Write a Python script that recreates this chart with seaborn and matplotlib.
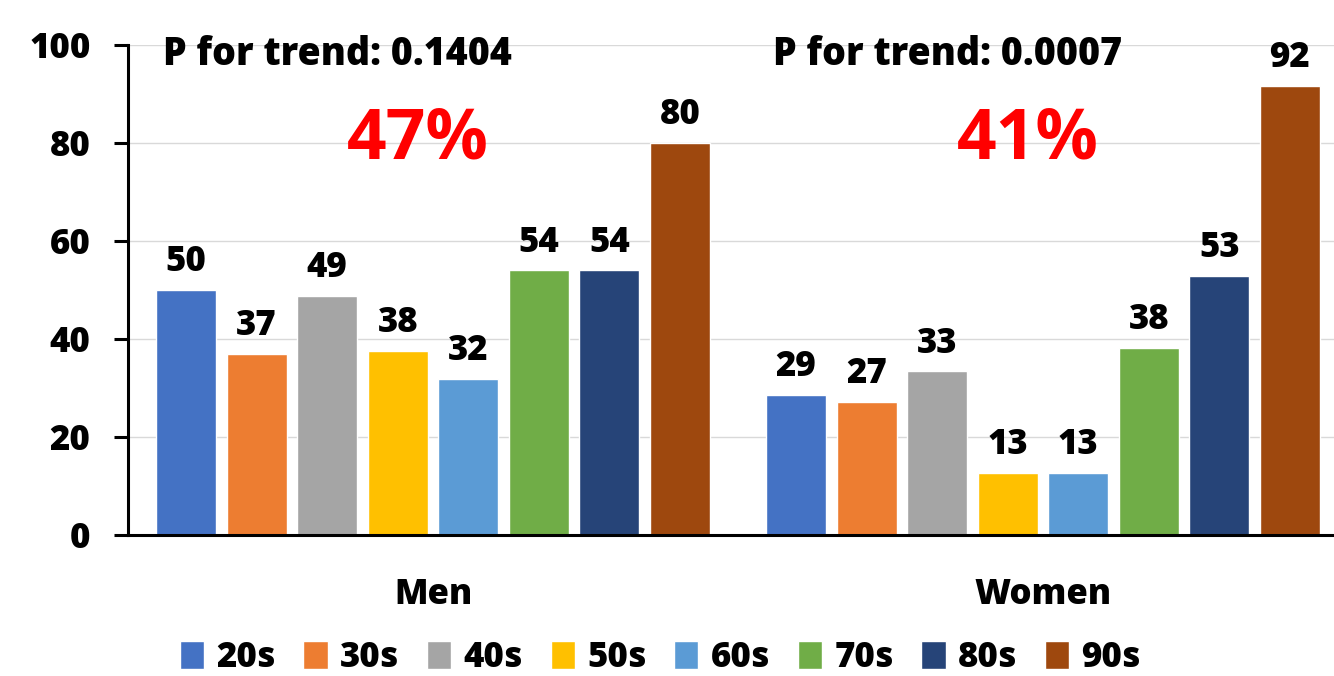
import matplotlib
matplotlib.use("Agg")
import matplotlib.pyplot as plt
from matplotlib.patches import Patch
import seaborn as sns
import pandas as pd

# data
groups = ["Men", "Women"]
decades = ["20s", "30s", "40s", "50s", "60s", "70s", "80s", "90s"]
men_vals = [50, 36.9, 48.8, 37.6, 31.8, 54, 54, 80]
women_vals = [28.6, 27.1, 33.4, 12.7, 12.7, 38.2, 52.9, 91.6]
trend_p = ["P for trend: 0.1404", "P for trend: 0.0007"]
pct_labels = ["47%", "41%"]
colors = ["#4472C4", "#ED7D31", "#A5A5A5", "#FFC000",
          "#5B9BD5", "#70AD47", "#264478", "#9E480E"]

df = pd.DataFrame({
    "group": [g for g in groups for _ in decades],
    "decade": decades * 2,
    "value": men_vals + women_vals,
})

sns.set_theme(style="white")
plt.rcParams["font.family"] = ["Open Sans", "DejaVu Sans"]
plt.rcParams["font.weight"] = "heavy"
plt.rcParams["text.color"] = "black"
plt.rcParams["xtick.color"] = "black"
plt.rcParams["ytick.color"] = "black"
W = "heavy"
FS = 25

fig = plt.figure(figsize=(13.34, 6.76), dpi=100)
ax = fig.add_axes([128 / 1334, 141 / 676, 1220 / 1334, 490 / 676])

sns.barplot(data=df, x="group", y="value", hue="decade", palette=colors,
            width=0.925, gap=0.15, saturation=1, legend=False, ax=ax)

for cont in ax.containers:
    ax.bar_label(cont, fmt="%.0f", padding=7, fontsize=FS, fontweight=W,
                 color="black")

ax.set_xlim(-0.5, 1.5)
ax.set_ylim(0, 100)
ax.set_yticks([0, 20, 40, 60, 80, 100])
ax.yaxis.grid(True, color="#d9d9d9", linewidth=1)
ax.set_axisbelow(True)
for side in ["top", "right"]:
    ax.spines[side].set_visible(False)
for side in ["left", "bottom"]:
    ax.spines[side].set_color("black")
    ax.spines[side].set_linewidth(2.2)
ax.tick_params(axis="y", which="major", left=True, length=10, width=2.2,
               color="black", labelsize=FS, pad=17, labelcolor="black")
ax.tick_params(axis="x", bottom=False, labelsize=FS, pad=24,
               labelcolor="black")
for lab in ax.get_xticklabels() + ax.get_yticklabels():
    lab.set_fontweight(W)
ax.set_xlabel("")
ax.set_ylabel("%", fontsize=FS, fontweight=W, color="black")
ax.yaxis.set_label_coords(-0.112, 0.5)

# annotations
for i, (p, pct) in enumerate(zip(trend_p, pct_labels)):
    ax.text(i - 0.443, 98, p, fontsize=27, fontweight=W,
            ha="left", va="center", color="black")
    ax.text(i - 0.025, 80.5, pct, fontsize=50, fontweight="bold",
            color="red", ha="center", va="center")

handles = [Patch(facecolor=c, label=d) for c, d in zip(colors, decades)]
fig.legend(handles=handles, loc="center", bbox_to_anchor=(0.495, 18 / 676),
           ncol=8, frameon=False, handlelength=0.7,
           handleheight=0.9, handletextpad=0.35, columnspacing=0.8,
           prop={"weight": W, "size": FS})

fig.savefig("out.png", dpi=100)
